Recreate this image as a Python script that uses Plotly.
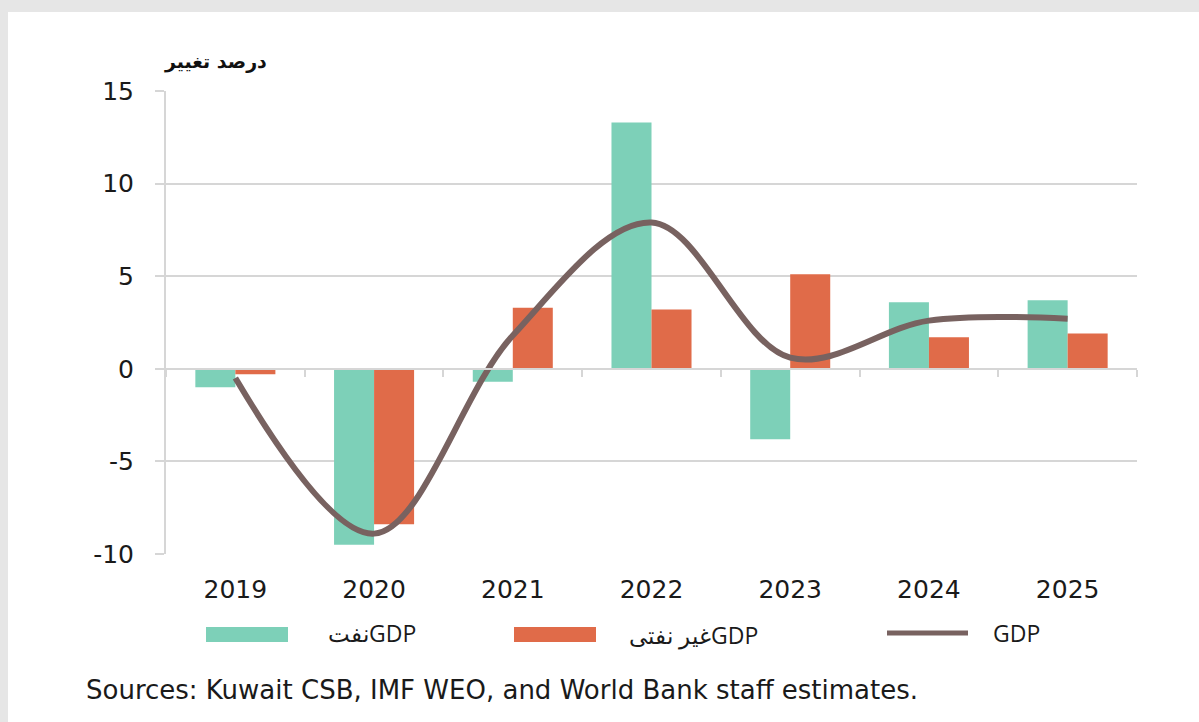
import plotly.graph_objects as go

# Kuwait real growth, percent change
years = ["2019", "2020", "2021", "2022", "2023", "2024", "2025"]
oil_gdp = [-1.0, -9.5, -0.7, 13.3, -3.8, 3.6, 3.7]
non_oil_gdp = [-0.3, -8.4, 3.3, 3.2, 5.1, 1.7, 1.9]
total_gdp = [-0.5, -8.9, 1.8, 7.9, 0.6, 2.6, 2.7]
y_ticks = [-10, -5, 0, 5, 10, 15]
y_tick_text = ["-10", "-5", "0", "5", "10", "15"]

TEAL = "#7dd0b8"
ORANGE = "#e06b49"
LINE = "#786260"
GRID = "#d6d6d6"
TXT = "#1a1a1a"

W, H = 1199, 722
L, R, T, B = 166, 62, 91, 168
PW, PH = W - L - R, H - T - B

def px(x):
    return (x - L) / PW

def py(y):
    return (H - B - y) / PH

xs = list(range(len(years)))

fig = go.Figure()
fig.add_trace(go.Bar(x=xs, y=oil_gdp, marker_color=TEAL, marker_line_width=0,
                     name="نفتGDP"))
fig.add_trace(go.Bar(x=xs, y=non_oil_gdp, marker_color=ORANGE, marker_line_width=0,
                     name="غیر نفتیGDP"))
fig.add_trace(go.Scatter(x=xs, y=total_gdp, mode="lines", xaxis="x2",
                         line=dict(color=LINE, width=6, shape="spline", smoothing=1.0),
                         name="GDP"))

ymin, ymax = y_ticks[0], y_ticks[-1]

fig.update_layout(
    width=W, height=H,
    margin=dict(l=L, r=R, t=T, b=B, autoexpand=False),
    paper_bgcolor="white", plot_bgcolor="white",
    showlegend=False,
    barmode="group", bargap=0.423, bargroupgap=0,
    font=dict(family="DejaVu Sans", color=TXT),
    xaxis=dict(range=[-0.5, len(years) - 0.5], tickvals=xs, ticktext=years,
               showgrid=False, zeroline=False, showline=False, ticks="",
               tickfont=dict(size=25, color=TXT), ticklabelstandoff=18),
    xaxis2=dict(overlaying="x", matches="x", anchor="free",
                position=(0 - ymin) / (ymax - ymin), side="bottom",
                showgrid=False, zeroline=False, showline=True, linecolor=GRID, linewidth=2,
                ticks="outside", ticklen=7, tickwidth=2, tickcolor=GRID,
                tickvals=[i - 0.5 for i in range(len(years) + 1)], showticklabels=False),
    yaxis=dict(range=[ymin, ymax], tickvals=y_ticks, ticktext=y_tick_text,
               showgrid=True, gridcolor=GRID,
               gridwidth=2, zeroline=False, showline=True, linecolor=GRID, linewidth=2,
               ticks="outside", ticklen=9, tickwidth=2, tickcolor=GRID,
               tickfont=dict(size=25, color=TXT), ticklabelstandoff=16),
)

# grey frame strips along top and left edges
fig.add_shape(type="rect", xref="paper", yref="paper", x0=px(0), x1=px(W), y0=py(12), y1=py(0),
              fillcolor="#e6e6e6", line_width=0, layer="below")
fig.add_shape(type="rect", xref="paper", yref="paper", x0=px(0), x1=px(8), y0=py(H), y1=py(0),
              fillcolor="#e6e6e6", line_width=0, layer="below")

# axis unit label
fig.add_annotation(text="<b>درصد تغییر</b>", xref="paper", yref="paper", x=px(215), y=py(62),
                   xanchor="center", yanchor="middle", showarrow=False,
                   font=dict(size=19, color="#111111"))

# legend
LEG_FONT = dict(family="Open Sans", size=23, color=TXT)
leg_y = py(633)
fig.add_shape(type="rect", xref="paper", yref="paper", x0=px(206), x1=px(288),
              y0=py(642), y1=py(627), fillcolor=TEAL, line_width=0)
fig.add_annotation(text="نفتGDP", xref="paper", yref="paper", x=px(326), y=leg_y,
                   xanchor="left", yanchor="middle", showarrow=False, font=LEG_FONT)
fig.add_shape(type="rect", xref="paper", yref="paper", x0=px(514), x1=px(596),
              y0=py(642), y1=py(627), fillcolor=ORANGE, line_width=0)
fig.add_annotation(text="غیر نفتیGDP", xref="paper", yref="paper", x=px(627), y=py(635),
                   xanchor="left", yanchor="middle", showarrow=False, font=LEG_FONT)
fig.add_shape(type="line", xref="paper", yref="paper", x0=px(887), x1=px(968),
              y0=leg_y, y1=leg_y, line=dict(color=LINE, width=5))
fig.add_annotation(text="GDP", xref="paper", yref="paper", x=px(991), y=leg_y,
                   xanchor="left", yanchor="middle", showarrow=False, font=LEG_FONT)

# source note
fig.add_annotation(text="Sources: Kuwait CSB, IMF WEO, and World Bank staff estimates.",
                   xref="paper", yref="paper", x=px(84), y=py(690), xanchor="left",
                   yanchor="middle", showarrow=False,
                   font=dict(family="DejaVu Sans", size=26, color=TXT))

fig.write_html("out.html")
